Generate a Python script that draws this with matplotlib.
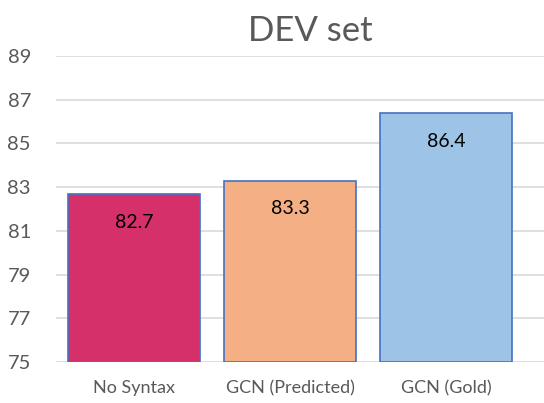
import matplotlib
matplotlib.use("Agg")
import matplotlib.pyplot as plt

# scores on the DEV set
categories = ["No Syntax", "GCN (Predicted)", "GCN (Gold)"]
scores = [82.7, 83.3, 86.4]
colors = ["#D6306A", "#F4B084", "#9DC3E6"]
yticks = [75, 77, 79, 81, 83, 85, 87, 89]

plt.rcParams["font.family"] = ["Lato", "DejaVu Sans"]

fig = plt.figure(figsize=(5.44, 4.03), dpi=100)
ax = fig.add_axes([56 / 544, 41 / 403, 488 / 544, 306 / 403])

x = range(len(categories))
bars = ax.bar(x, [s - 75 for s in scores], bottom=75, width=0.85,
              color=colors, edgecolor="#4472C4", linewidth=1.2, zorder=3)

for i, s in enumerate(scores):
    ax.text(i, s - 1.3, f"{s}", ha="center", va="center",
            fontsize=14, color="black", zorder=4)

ax.set_xlim(-0.5, 2.628)
ax.set_ylim(75, 89)
ax.set_yticks(yticks)
ax.set_yticklabels([str(t) for t in yticks], fontsize=14.5, color="#595959")
ax.set_xticks(list(x))
ax.set_xticklabels(categories, fontsize=13, color="#595959")
ax.tick_params(axis="y", length=0, pad=18)
ax.tick_params(axis="x", length=0, pad=13)
ax.grid(axis="y", color="#D9D9D9", linewidth=1.2, zorder=0)
for sp in ax.spines.values():
    sp.set_visible(False)

fig.text(310 / 544, 1 - 31 / 403, "DEV set", ha="center", va="center",
         fontsize=25, color="#595959")

fig.savefig("out.png", dpi=100)
